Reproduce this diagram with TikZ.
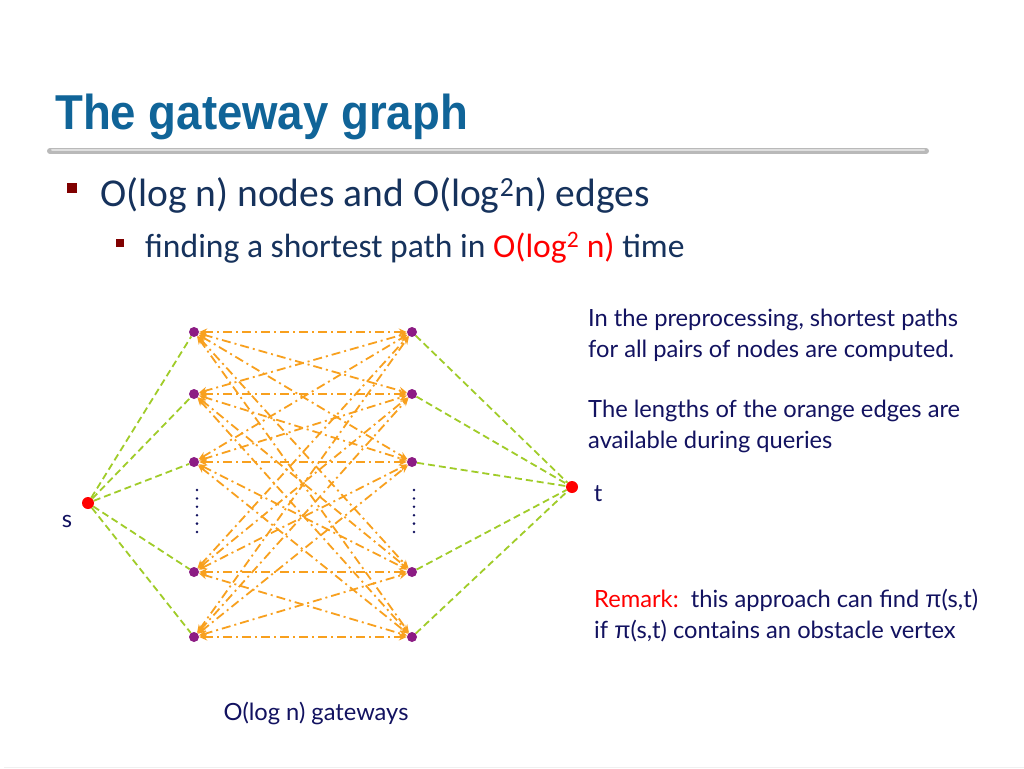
\documentclass[tikz,border=0pt]{standalone}
\usepackage{fontspec}
\setmainfont{Carlito}
\newfontfamily\titlefont[FakeStretch=0.93]{Liberation Sans}
\newfontfamily\notefont{Lato}
\newfontfamily\pifont{Liberation Sans}
\usetikzlibrary{positioning,arrows.meta}
\definecolor{titleblue}{RGB}{16,100,152}
\definecolor{bulletred}{RGB}{128,0,0}
\definecolor{textnavy}{RGB}{22,50,92}
\definecolor{notenavy}{RGB}{18,18,96}
\definecolor{gatepurple}{RGB}{140,28,132}
\definecolor{edgegreen}{RGB}{160,204,40}
\definecolor{edgeorange}{RGB}{248,160,30}
\newcommand{\pisym}{{\pifont π}}

\begin{document}
\begin{tikzpicture}[x=1pt, y=-1pt,
gatenode/.style={circle, fill=gatepurple, inner sep=0pt, minimum size=10pt},
endnode/.style={circle, fill=red, inner sep=0pt, minimum size=12pt},
greenedge/.style={draw=edgegreen, line width=1.8pt, dash pattern=on 7pt off 4pt},
orangeedge/.style={draw=edgeorange, line width=1.8pt, dash pattern=on 9pt off 4pt on 2pt off 4pt,
  {Stealth[length=8pt,width=7pt]}-{Stealth[length=8pt,width=7pt]}},
notetext/.style={anchor=base west, align=left, font=\notefont\fontsize{23.7}{30.5}\selectfont, text=notenavy, inner sep=0pt},
labeltext/.style={anchor=base, inner sep=0pt, text=notenavy, font=\notefont\fontsize{23.7}{28}\selectfont}
]
    \useasboundingbox (0,0) rectangle (1024,768);
    \fill[white] (0,0) rectangle (1024,768);

    %Title
    \node[anchor=base west, inner sep=0pt, text=titleblue, font=\titlefont\bfseries\fontsize{49}{55}\selectfont]
        (title) at (55,129) {The gateway graph};
    \draw[line width=6pt, line cap=round, gray!55] (50,151) -- (926,151);
    \draw[line width=2pt, line cap=round, gray!25] (52,150) -- (924,150);
    \draw[line width=1pt, gray!12] (4,767) -- (1024,767);

    %Bullets
    \fill[bulletred] (67,183) rectangle (77,193);
    \node[anchor=base west, inner sep=0pt, text=textnavy, font=\fontsize{39.5}{44}\selectfont]
        (b1) at (100,206) {O(log n) nodes and O(log\textsuperscript{2}n) edges};
    \fill[bulletred] (116,239) rectangle (124,247);
    \node[anchor=base west, inner sep=0pt, text=textnavy, font=\fontsize{33.6}{38}\selectfont]
        (b2) at (145,257) {finding a shortest path in \textcolor{red}{O(log\textsuperscript{2} n)} time};

    %Nodes
    \node[endnode] (s) at (88,503) {};
    \node[endnode] (t) at (572,487) {};
    \foreach \i/\y in {1/332, 2/394, 3/462, 4/572, 5/637} {
        \node[gatenode] (l\i) at (194,\y) {};
        \node[gatenode] (r\i) at (412,\y) {};
    }
    \foreach \k in {0,...,5} {
        \fill[notenavy] (197,490+8.4*\k) circle (1.4);
        \fill[notenavy] (414,490+8.4*\k) circle (1.4);
    }

    %Lines
    \foreach \i in {1,...,5} {
        \draw[greenedge] (s) -- (l\i);
        \draw[greenedge] (r\i) -- (t);
        \foreach \j in {1,...,5}
            \draw[orangeedge] (l\i) -- (r\j);
    }

    %Labels
    \node[labeltext] (slabel) at (67,527) {s};
    \node[labeltext] (tlabel) at (598,501) {t};
    \node[labeltext] (gates) at (316,720) {O(log n) gateways};
    \node[notetext] (pre) at (588,357) {In the preprocessing, shortest paths\\for all pairs of nodes are computed.};
    \node[notetext] (len) at (588,448) {The lengths of the orange edges are\\available during queries};
    \node[notetext] (rem) at (594,638) {\textcolor{red}{Remark:}\ \ this approach can find \pisym(s,t)\\if \pisym(s,t) contains an obstacle vertex};
\end{tikzpicture}
\end{document}
